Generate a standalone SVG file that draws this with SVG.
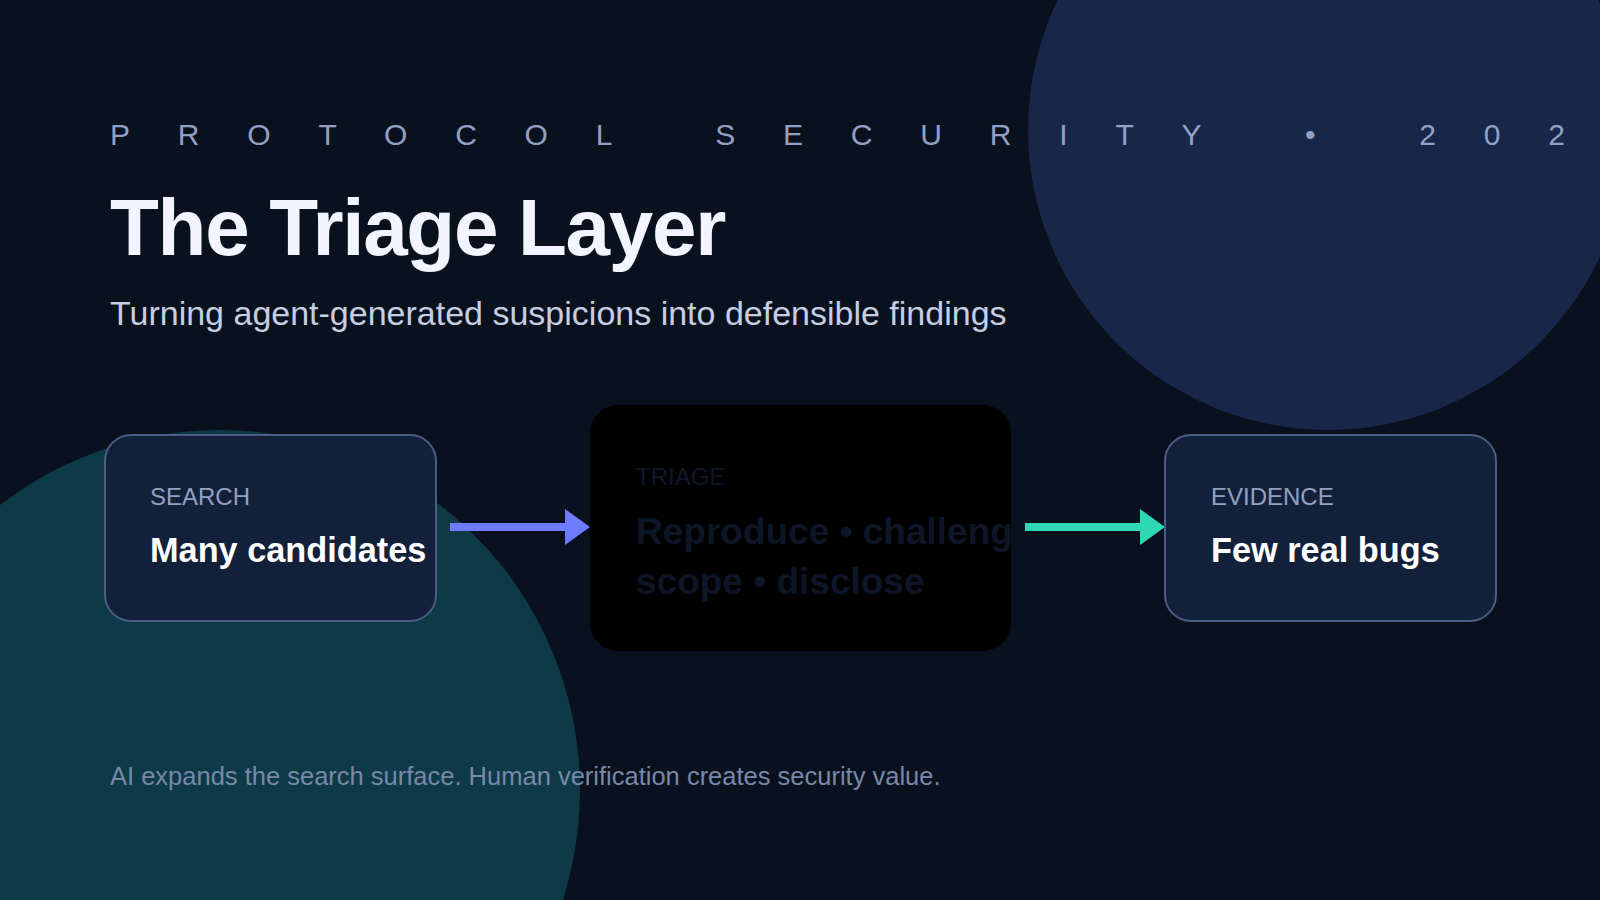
<svg xmlns="http://www.w3.org/2000/svg" width="1600" height="900" viewBox="0 0 1600 900">
  <style>
    .sans { font-family: "Liberation Sans", Arial, sans-serif; }
    .kicker { font-size: 30px; letter-spacing: 47.8px; fill: #93a0c4; }
    .title { font-size: 80px; font-weight: 700; letter-spacing: -1.3px; fill: #f2f5ff; }
    .subtitle { font-size: 34px; fill: #c5cee2; }
    .footer { font-size: 25.5px; fill: #7788a8; }
    .card { fill: #13203a; stroke: #4c5c85; stroke-width: 2; }
    .label { font-size: 24px; fill: #93a0c0; }
    .value { font-size: 34.3px; font-weight: 700; fill: #ffffff; }
    .triage-card { fill: #000000; }
    .triage-label { font-size: 24px; fill: #0f1828; }
    .triage-value { font-size: 37px; font-weight: 700; fill: #0d1627; }
    .shaft { stroke-width: 8; fill: none; }
  </style>
  <defs>
    <marker id="head-blue" markerUnits="userSpaceOnUse" markerWidth="26" markerHeight="36" viewBox="0 0 25 36" refX="1" refY="18" orient="auto">
      <path d="M0,0 L25,18 L0,36 Z" fill="#6e7bff"/>
    </marker>
    <marker id="head-green" markerUnits="userSpaceOnUse" markerWidth="26" markerHeight="36" viewBox="0 0 25 36" refX="1" refY="18" orient="auto">
      <path d="M0,0 L25,18 L0,36 Z" fill="#2ed8b4"/>
    </marker>
    <clipPath id="triage-clip">
      <rect x="590" y="405" width="421" height="246" rx="28"/>
    </clipPath>
  </defs>

  <rect x="0" y="0" width="1600" height="900" fill="#09111f"/>
  <circle cx="1328" cy="130" r="300" fill="#182649"/>
  <circle cx="220" cy="790" r="360" fill="#0e3a48"/>

  <g id="header" class="sans">
    <text class="kicker" x="110" y="145">PROTOCOL SECURITY • 2026</text>
    <text class="title" x="110" y="255">The Triage Layer</text>
    <text class="subtitle" x="110" y="325">Turning agent-generated suspicions into defensible findings</text>
  </g>

  <g id="connectors">
    <line class="shaft" x1="450" y1="527" x2="566" y2="527" stroke="#6e7bff" marker-end="url(#head-blue)"/>
    <line class="shaft" x1="1025" y1="527" x2="1141" y2="527" stroke="#2ed8b4" marker-end="url(#head-green)"/>
  </g>

  <g id="node-search" class="sans">
    <rect class="card" x="105" y="435" width="331" height="186" rx="26"/>
    <text class="label" x="150" y="505">SEARCH</text>
    <text class="value" x="150" y="562">Many candidates</text>
  </g>

  <g id="node-triage" class="sans">
    <rect class="triage-card" x="590" y="405" width="421" height="246" rx="28"/>
    <g clip-path="url(#triage-clip)">
      <text class="triage-label" x="636" y="485">TRIAGE</text>
      <text class="triage-value" x="636" y="543.5">Reproduce • challenge</text>
      <text class="triage-value" x="636" y="593.5">scope • disclose</text>
    </g>
  </g>

  <g id="node-evidence" class="sans">
    <rect class="card" x="1165" y="435" width="331" height="186" rx="26"/>
    <text class="label" x="1211" y="505">EVIDENCE</text>
    <text class="value" x="1211" y="562">Few real bugs</text>
  </g>

  <g id="footer" class="sans">
    <text class="footer" x="110" y="785">AI expands the search surface. Human verification creates security value.</text>
  </g>
</svg>
